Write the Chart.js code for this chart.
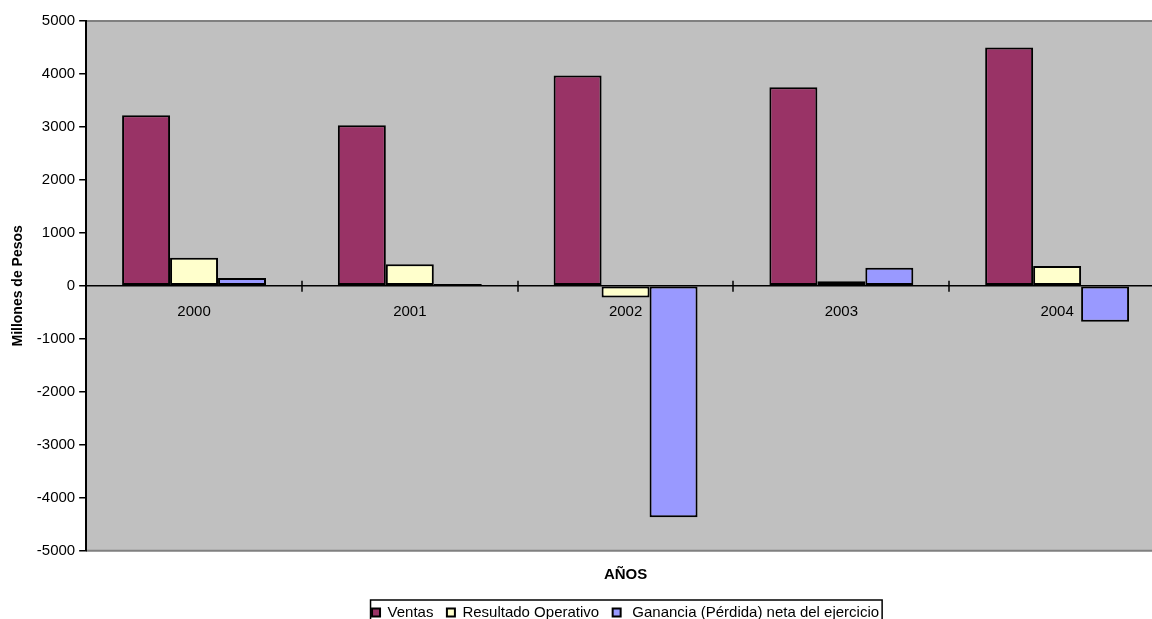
<!DOCTYPE html>
<html><head><meta charset="utf-8">
<script src="https://cdn.jsdelivr.net/npm/chart.js@4/dist/chart.umd.min.js"></script>
<style>html,body{margin:0;padding:0;background:#fff;overflow:hidden}#clip{width:1152px;height:619px;overflow:hidden;position:relative}#wrap{width:1165px;height:630px;position:absolute;left:0;top:0}</style>
</head><body><div id="clip"><div id="wrap"><canvas id="c"></canvas></div></div>
<script>
const categories = ['2000', '2001', '2002', '2003', '2004'];
const ventas = [3220, 3030, 3970, 3750, 4500];
const resultadoOperativo = [530, 410, -220, 85, 375];
const gananciaNeta = [150, 35, -4370, 340, -680];
const seriesNames = ['Ventas', 'Resultado Operativo', ' Ganancia (Pérdida) neta del ejercicio'];
const yMin = -5000, yMax = 5000, yStep = 1000;
const yTitle = 'Millones de Pesos';
const xTitle = 'AÑOS';

const FAMILY = '"Liberation Sans", Arial, sans-serif';

const plotBg = {
  id: 'plotBg',
  beforeDraw(chart) {
    const {ctx, chartArea: a} = chart;
    ctx.save();
    ctx.fillStyle = '#c0c0c0';
    ctx.fillRect(a.left, a.top, a.right - a.left, a.bottom - a.top);
    ctx.strokeStyle = '#808080';
    ctx.lineWidth = 2;
    ctx.beginPath();
    ctx.moveTo(a.left, a.top); ctx.lineTo(a.right, a.top);
    ctx.moveTo(a.left, a.bottom); ctx.lineTo(a.right, a.bottom);
    ctx.stroke();
    ctx.restore();
  }
};

const catTicks = {
  id: 'catTicks',
  afterDatasetsDraw(chart) {
    const {ctx} = chart;
    const xs = chart.scales.x, ys = chart.scales.y;
    const y0 = ys.getPixelForValue(0);
    ctx.save();
    ctx.strokeStyle = '#000';
    ctx.lineWidth = 1.5;
    ctx.beginPath();
    ctx.moveTo(chart.chartArea.left, y0); ctx.lineTo(chart.chartArea.right, y0);
    for (let i = 1; i < categories.length; i++) {
      const x = Math.round((xs.getPixelForValue(i - 1) + xs.getPixelForValue(i)) / 2);
      ctx.moveTo(x, y0 - 5); ctx.lineTo(x, y0 + 6);
    }
    ctx.stroke();
    ctx.restore();
  }
};

const legendBox = {
  id: 'legendBox',
  afterDraw(chart) {
    const lg = chart.legend;
    if (!lg || !lg.legendHitBoxes || !lg.legendHitBoxes.length) return;
    const hb = lg.legendHitBoxes;
    const left = hb[0].left - 1.5;
    const last = hb[hb.length - 1];
    const right = last.left + last.width + 3;
    const top = hb[0].top - 5;
    const {ctx} = chart;
    ctx.save();
    ctx.strokeStyle = '#000';
    ctx.lineWidth = 1.5;
    ctx.strokeRect(left, top, right - left, 40);
    ctx.restore();
  }
};

new Chart(document.getElementById('c'), {
  type: 'bar',
  data: {
    labels: categories,
    datasets: [
      {label: seriesNames[0], data: ventas, backgroundColor: '#993366'},
      {label: seriesNames[1], data: resultadoOperativo, backgroundColor: '#FFFFCC'},
      {label: seriesNames[2], data: gananciaNeta, backgroundColor: '#9999FF'}
    ]
  },
  options: {
    responsive: true,
    maintainAspectRatio: false,
    animation: false,
    layout: {padding: {top: 21, right: 0, left: 0, bottom: 0}},
    datasets: {
      bar: {
        borderColor: '#000', borderWidth: 2, borderSkipped: false,
        categoryPercentage: 0.667, barPercentage: 1
      }
    },
    scales: {
      x: {
        position: {y: 0},
        offset: true,
        grid: {display: false},
        border: {display: false},
        ticks: {color: '#000', font: {family: FAMILY, size: 15}, padding: 9, maxRotation: 0}
      },
      y: {
        min: yMin, max: yMax,
        ticks: {stepSize: yStep, color: '#000', font: {family: FAMILY, size: 15}, padding: 4,
                callback: (v) => String(v)},
        grid: {display: true, drawOnChartArea: false, drawTicks: true, tickLength: 7, color: '#000', lineWidth: 1.5},
        border: {display: true, color: '#000', width: 2},
        title: {display: true, text: yTitle, color: '#000', font: {family: FAMILY, size: 14, weight: 'bold'}, padding: {top: 10, bottom: 6}}
      }
    },
    plugins: {
      title: {
        display: true, text: xTitle, position: 'bottom', fullSize: false, weight: 500,
        color: '#000', font: {family: FAMILY, size: 15, weight: 'bold'},
        padding: {top: 15.3, bottom: 7.5}
      },
      legend: {
        position: 'bottom', fullSize: false,
        labels: {
          color: '#000', font: {family: FAMILY, size: 15},
          boxWidth: 8, boxHeight: 8, padding: 13.5
        }
      },
      tooltip: {enabled: false}
    }
  },
  plugins: [plotBg, catTicks, legendBox]
});
</script>
</body></html>
